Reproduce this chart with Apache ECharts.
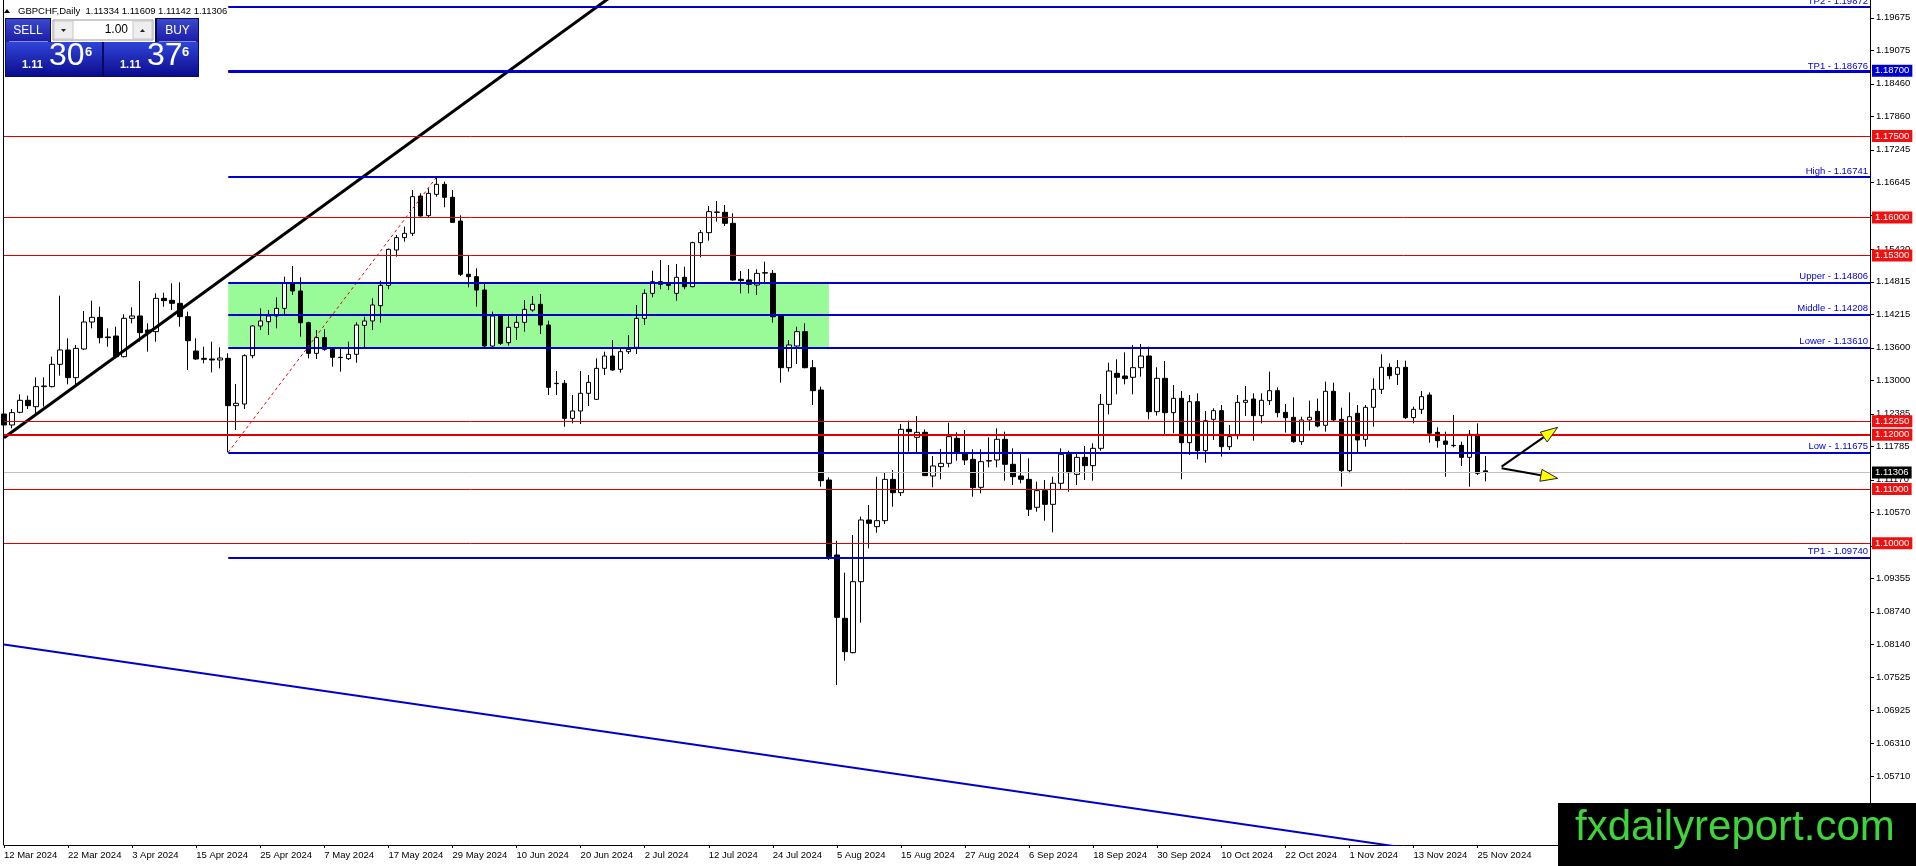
<!DOCTYPE html>
<html>
<head>
<meta charset="utf-8">
<title>GBPCHF Daily</title>
<script src="https://cdn.jsdelivr.net/npm/echarts@6.0.0/dist/echarts.min.js"></script>
<style>
html, body { margin: 0; padding: 0; background: #fff; }
#main { width: 1916px; height: 866px; }
</style>
</head>
<body>
<div id="main"></div>
<script>
/* GBPCHF daily, 12 Mar 2024 - 26 Nov 2024 */
var tickLabels = ['12 Mar 2024', '22 Mar 2024', '3 Apr 2024', '15 Apr 2024', '25 Apr 2024', '7 May 2024',
    '17 May 2024', '29 May 2024', '10 Jun 2024', '20 Jun 2024', '2 Jul 2024', '12 Jul 2024', '24 Jul 2024',
    '5 Aug 2024', '15 Aug 2024', '27 Aug 2024', '6 Sep 2024', '18 Sep 2024', '30 Sep 2024', '10 Oct 2024',
    '22 Oct 2024', '1 Nov 2024', '13 Nov 2024', '25 Nov 2024'];
var priceTicks = [1.19675, 1.19075, 1.18460, 1.17860, 1.17245, 1.16645, 1.16045, 1.15420, 1.14815, 1.14215,
    1.13600, 1.13000, 1.12385, 1.11785, 1.11170, 1.10570, 1.09955, 1.09355, 1.08740, 1.08140, 1.07525,
    1.06925, 1.06310, 1.05710, 1.05095];

var opens = [1.12381, 1.12179, 1.12412, 1.12633, 1.12516, 1.12885, 1.12885, 1.13296, 1.13560, 1.13050,
    1.13578, 1.14075, 1.14161, 1.13800, 1.13817, 1.13437, 1.14143, 1.14186, 1.13928, 1.13897,
    1.14511, 1.14474, 1.14419, 1.14174, 1.13541, 1.13406, 1.13394, 1.13376, 1.13406, 1.12535,
    1.12565, 1.13455, 1.14002, 1.14081, 1.14186, 1.14327, 1.14799, 1.14646, 1.14063, 1.13498,
    1.13787, 1.13572, 1.13425, 1.13400, 1.13480, 1.14014, 1.14094, 1.14376, 1.14750, 1.15401,
    1.15628, 1.15708, 1.16395, 1.16033, 1.16426, 1.16610, 1.16371, 1.15935, 1.14953, 1.14910,
    1.14664, 1.13633, 1.14186, 1.13695, 1.13977, 1.14069, 1.14296, 1.14401, 1.14020, 1.12940,
    1.12946, 1.12301, 1.12437, 1.12762, 1.12651, 1.13222, 1.13449, 1.13204, 1.13529, 1.13609,
    1.14143, 1.14603, 1.14818, 1.14775, 1.14603, 1.14898, 1.14726, 1.15536, 1.15720, 1.16100,
    1.16095, 1.15892, 1.14861, 1.14849, 1.14756, 1.14975, 1.14971, 1.14186, 1.13234, 1.13633,
    1.13897, 1.13234, 1.12823, 1.11166, 1.09785, 1.08619, 1.07987, 1.09294, 1.10430, 1.10307,
    1.10417, 1.11178, 1.10933, 1.12099, 1.11952, 1.12044, 1.11240, 1.11412, 1.11473, 1.11933,
    1.11657, 1.11546, 1.11031, 1.11515, 1.11534, 1.11915, 1.11455, 1.11240, 1.11178, 1.10663,
    1.10970, 1.10718, 1.11105, 1.11639, 1.11270, 1.11583, 1.11430, 1.11749, 1.12559, 1.13130,
    1.13081, 1.13057, 1.13234, 1.13449, 1.12424, 1.13038, 1.12406, 1.12670, 1.11853, 1.12608,
    1.11706, 1.12283, 1.12443, 1.11780, 1.11982, 1.12596, 1.12657, 1.12351, 1.12627, 1.12811,
    1.12412, 1.12320, 1.11872, 1.12271, 1.12430, 1.12173, 1.12799, 1.12283, 1.11338, 1.12394,
    1.11915, 1.12504, 1.12835, 1.13241, 1.13112, 1.13241, 1.12314, 1.12467, 1.12731, 1.12044,
    1.11884, 1.11804, 1.11804, 1.11583, 1.12007, 1.11334];
var closes = [1.12179, 1.12406, 1.12633, 1.12535, 1.12885, 1.12897, 1.13296, 1.13560, 1.13050, 1.13590,
    1.14075, 1.14161, 1.13787, 1.13787, 1.13437, 1.14143, 1.14186, 1.13879, 1.13879, 1.14511,
    1.14468, 1.14419, 1.14174, 1.13731, 1.13394, 1.13388, 1.13376, 1.13412, 1.12535, 1.12578,
    1.13455, 1.14002, 1.14094, 1.14186, 1.14327, 1.14799, 1.14646, 1.14063, 1.13498, 1.13787,
    1.13572, 1.13425, 1.13419, 1.13480, 1.14020, 1.14094, 1.14388, 1.14750, 1.15413, 1.15628,
    1.15708, 1.16383, 1.16027, 1.16444, 1.16610, 1.16371, 1.15910, 1.14953, 1.14910, 1.14664,
    1.13633, 1.14186, 1.13682, 1.13977, 1.14069, 1.14308, 1.14401, 1.14020, 1.12872, 1.12946,
    1.12301, 1.12437, 1.12762, 1.12964, 1.13222, 1.13449, 1.13191, 1.13529, 1.13572, 1.14143,
    1.14603, 1.14818, 1.14769, 1.14750, 1.14898, 1.14726, 1.15536, 1.15720, 1.16107, 1.16095,
    1.15892, 1.14849, 1.14836, 1.14769, 1.14971, 1.14984, 1.14173, 1.13234, 1.13652, 1.13897,
    1.13234, 1.12811, 1.11154, 1.09754, 1.08637, 1.08005, 1.09294, 1.10430, 1.10368, 1.10417,
    1.11178, 1.10933, 1.12099, 1.12056, 1.12044, 1.11246, 1.11424, 1.11473, 1.11964, 1.11657,
    1.11534, 1.11025, 1.11504, 1.11522, 1.11915, 1.11455, 1.11227, 1.11178, 1.10626, 1.10970,
    1.10718, 1.11105, 1.11639, 1.11301, 1.11583, 1.11430, 1.11749, 1.12559, 1.13173, 1.13057,
    1.13032, 1.13234, 1.13449, 1.12424, 1.13038, 1.12406, 1.12670, 1.11853, 1.12608, 1.11706,
    1.12258, 1.12443, 1.11780, 1.11964, 1.12596, 1.12633, 1.12351, 1.12633, 1.12811, 1.12406,
    1.12314, 1.11872, 1.12271, 1.12320, 1.12160, 1.12799, 1.12271, 1.11338, 1.12332, 1.11903,
    1.12504, 1.12835, 1.13241, 1.13087, 1.13234, 1.12314, 1.12467, 1.12700, 1.12026, 1.11890,
    1.11823, 1.11798, 1.11583, 1.12007, 1.11289, 1.11306];
var lows = [1.12150, 1.12117, 1.12394, 1.12473, 1.12394, 1.12516, 1.12872, 1.13087, 1.12928, 1.12915,
    1.13560, 1.13959, 1.13682, 1.13621, 1.13406, 1.13425, 1.14051, 1.13713, 1.13529, 1.13713,
    1.14357, 1.14296, 1.13989, 1.13191, 1.13376, 1.13314, 1.13148, 1.13222, 1.11675, 1.12087,
    1.12473, 1.13406, 1.13928, 1.13836, 1.13959, 1.14204, 1.14572, 1.13805, 1.13406, 1.13394,
    1.13547, 1.13253, 1.13161, 1.13376, 1.13326, 1.13590, 1.13928, 1.14063, 1.14677, 1.15278,
    1.15554, 1.15659, 1.16015, 1.16002, 1.16383, 1.16187, 1.15904, 1.14922, 1.14714, 1.14358,
    1.13590, 1.13590, 1.13652, 1.13639, 1.13744, 1.13897, 1.14266, 1.13854, 1.12731, 1.12731,
    1.12148, 1.12209, 1.12197, 1.12528, 1.12639, 1.13099, 1.13179, 1.13142, 1.13486, 1.13486,
    1.14020, 1.14529, 1.14677, 1.14664, 1.14468, 1.14677, 1.14714, 1.15266, 1.15573, 1.15923,
    1.15843, 1.14836, 1.14603, 1.14603, 1.14572, 1.14799, 1.14063, 1.12958, 1.13161, 1.13302,
    1.13222, 1.12547, 1.11043, 1.09693, 1.07391, 1.07839, 1.07974, 1.08539, 1.09908, 1.10196,
    1.10356, 1.10675, 1.10871, 1.11688, 1.11645, 1.11240, 1.11031, 1.11178, 1.11399, 1.11522,
    1.11442, 1.10859, 1.10920, 1.11399, 1.11399, 1.11154, 1.11074, 1.11105, 1.10503, 1.10583,
    1.10417, 1.10202, 1.10994, 1.10951, 1.11074, 1.11166, 1.11154, 1.11706, 1.12375, 1.12743,
    1.12928, 1.12743, 1.13069, 1.12283, 1.12351, 1.11976, 1.12026, 1.11178, 1.11627, 1.11547,
    1.11485, 1.11903, 1.11596, 1.11718, 1.11915, 1.12344, 1.11890, 1.12209, 1.12547, 1.12320,
    1.12038, 1.11853, 1.11810, 1.12075, 1.12136, 1.12056, 1.12240, 1.11043, 1.11289, 1.11657,
    1.11780, 1.12148, 1.12749, 1.13020, 1.12915, 1.12289, 1.12209, 1.12381, 1.11853, 1.11761,
    1.11227, 1.11768, 1.11424, 1.11043, 1.11258, 1.11142];
var highs = [1.12430, 1.12473, 1.12743, 1.12719, 1.13056, 1.13056, 1.13437, 1.14560, 1.13774, 1.13652,
    1.14278, 1.14468, 1.14357, 1.13959, 1.13989, 1.14216, 1.14345, 1.14830, 1.14051, 1.14603,
    1.14616, 1.14787, 1.14806, 1.14266, 1.13774, 1.13621, 1.13713, 1.13609, 1.13498, 1.12934,
    1.13480, 1.14020, 1.14327, 1.14296, 1.14529, 1.14910, 1.15106, 1.14898, 1.14081, 1.13928,
    1.13940, 1.13590, 1.13590, 1.13713, 1.14069, 1.14173, 1.14511, 1.14836, 1.15426, 1.15677,
    1.15831, 1.16506, 1.16444, 1.16536, 1.16741, 1.16659, 1.16506, 1.16039, 1.15290, 1.15063,
    1.14787, 1.14266, 1.14204, 1.14204, 1.14223, 1.14480, 1.14554, 1.14591, 1.14100, 1.13173,
    1.13007, 1.12731, 1.13173, 1.13099, 1.13406, 1.13529, 1.13744, 1.13609, 1.13836, 1.14388,
    1.14677, 1.15020, 1.15217, 1.15125, 1.15143, 1.15094, 1.15554, 1.15769, 1.16211, 1.16303,
    1.16230, 1.16076, 1.15014, 1.15051, 1.15045, 1.15186, 1.15033, 1.14204, 1.13744, 1.13989,
    1.14051, 1.13376, 1.12885, 1.11215, 1.10049, 1.09460, 1.10153, 1.10491, 1.10706, 1.11227,
    1.11301, 1.11350, 1.12197, 1.12258, 1.12344, 1.12099, 1.11608, 1.11737, 1.12222, 1.12044,
    1.12087, 1.11731, 1.11731, 1.11952, 1.12117, 1.12056, 1.11749, 1.11669, 1.11565, 1.11135,
    1.11166, 1.11227, 1.11749, 1.11706, 1.11669, 1.11792, 1.11841, 1.12750, 1.13326, 1.13388,
    1.13517, 1.13652, 1.13670, 1.13621, 1.13241, 1.13357, 1.12915, 1.12805, 1.12731, 1.12762,
    1.12437, 1.12486, 1.12547, 1.12179, 1.12731, 1.12897, 1.12762, 1.12762, 1.13161, 1.12872,
    1.12565, 1.12688, 1.12332, 1.12627, 1.12664, 1.12977, 1.12958, 1.12498, 1.12780, 1.12547,
    1.12547, 1.13038, 1.13480, 1.13314, 1.13375, 1.13363, 1.12516, 1.12805, 1.12780, 1.12136,
    1.12056, 1.12363, 1.11872, 1.12087, 1.12209, 1.11609];

// chart objects (bar index, price)
var blueLevels = [1.19872, 1.18676, 1.16741, 1.14806, 1.14208, 1.13610, 1.11675, 1.09740];
var blueNames = ['TP2', 'TP1', 'High', 'Upper', 'Middle', 'Lower', 'Low', 'TP1'];
var redLevels = [1.17500, 1.16000, 1.15300, 1.12250, 1.12000, 1.11000, 1.10000];
var boxLevel = 1.18700;
var lastPrice = 1.11306;
var levelStart = 28;
var zoneEnd = 103;
var trendUp = [[0, 1.11943], [80, 1.20516]];
var trendDown = [[0, 1.08135], [180, 1.04287]];
var fiboLine = [[28, 1.11675], [54, 1.16741]];
var arrows = [[187, 1.11411, 194, 1.12136], [187, 1.11381, 194, 1.11197]];
var totalBars = 234;

var FONT = '"Liberation Sans", Arial, sans-serif';
var RED = '#e00000';
var BLUE = '#0000cd';

var cats = [];
for (var i = 0; i < totalBars; i++) cats.push(String(i));

var candles = opens.map(function (o, i) {
    return [o, closes[i], lows[i], highs[i]];
});

function showTick(idx) {
    return idx % 8 === 0 && idx / 8 < tickLabels.length;
}

var lines = [];
redLevels.forEach(function (v) {
    lines.push({
        yAxis: v,
        lineStyle: { color: RED, width: v === 1.12 ? 2 : 1, type: 'solid' },
        label: { show: true, position: 'end', formatter: v.toFixed(5), backgroundColor: '#ee1111', color: '#fff' }
    });
});
lines.push({
    yAxis: lastPrice,
    lineStyle: { color: '#c0c0c0', width: 1, type: 'solid' },
    label: { show: true, position: 'end', formatter: lastPrice.toFixed(5), backgroundColor: '#000', color: '#fff' }
});
lines.push([{
    coord: [levelStart, boxLevel],
    lineStyle: { color: BLUE, width: 2, type: 'solid' },
    label: { show: true, position: 'end', formatter: boxLevel.toFixed(5), backgroundColor: BLUE, color: '#fff' }
}, { coord: [totalBars - 1, boxLevel] }]);
blueLevels.forEach(function (v, k) {
    lines.push([{
        coord: [levelStart, v],
        lineStyle: { color: BLUE, width: 2, type: 'solid' },
        label: {
            show: true, position: 'insideEndTop', distance: [2, 1],
            formatter: blueNames[k] + ' - ' + v.toFixed(5), color: BLUE,
            backgroundColor: 'transparent', padding: 0
        }
    }, { coord: [totalBars - 1, v] }]);
});

var chart = echarts.init(document.getElementById('main'));
var option = {
    animation: false,
    backgroundColor: '#fff',
    textStyle: { fontFamily: FONT },
    grid: { left: 4, right: 46, top: 0, bottom: 21, containLabel: false, outerBoundsMode: 'none' },
    xAxis: {
        type: 'category',
        data: cats,
        boundaryGap: false,
        axisLine: { onZero: false, lineStyle: { color: '#000', width: 1 } },
        axisTick: { show: true, interval: showTick, length: 3, lineStyle: { color: '#000' } },
        axisLabel: {
            interval: showTick,
            formatter: function (v, idx) { return tickLabels[idx / 8] || ''; },
            align: 'left', margin: 5, fontSize: 9.5, color: '#000', fontFamily: FONT
        },
        splitLine: { show: false }
    },
    yAxis: {
        type: 'value',
        position: 'right',
        min: 1.044453,
        max: 1.200041,
        axisLine: { show: true, lineStyle: { color: '#000', width: 1 } },
        axisTick: { show: true, length: 4, customValues: priceTicks, lineStyle: { color: '#000' } },
        axisLabel: {
            customValues: priceTicks,
            formatter: function (v) { return v.toFixed(5); },
            margin: 6, fontSize: 9.5, color: '#000', fontFamily: FONT
        },
        splitLine: { show: false }
    },
    series: [{
        type: 'candlestick',
        data: candles,
        barWidth: 5,
        z: 2,
        silent: true,
        itemStyle: {
            color: '#ffffff', color0: '#000000',
            borderColor: '#000000', borderColor0: '#000000', borderColorDoji: '#000000',
            borderWidth: 1
        },
        markArea: {
            silent: true,
            itemStyle: { color: '#98fb98' },
            data: [[{ coord: [levelStart, blueLevels[3]] }, { coord: [zoneEnd, blueLevels[5]] }]]
        },
        markLine: {
            silent: true,
            symbol: ['none', 'none'],
            precision: 5,
            label: { fontSize: 9.5, fontFamily: FONT, padding: [1, 3, 1, 3], distance: 2 },
            data: lines
        }
    }, {
        type: 'line',
        data: trendUp,
        symbol: 'none',
        z: 4,
        silent: true,
        lineStyle: { color: '#000', width: 3 }
    }, {
        type: 'line',
        data: trendDown,
        symbol: 'none',
        z: 4,
        silent: true,
        lineStyle: { color: BLUE, width: 2 }
    }, {
        type: 'line',
        data: fiboLine,
        symbol: 'none',
        z: 4,
        silent: true,
        lineStyle: { color: RED, width: 1, type: [3, 3] }
    }, {
        type: 'custom',
        data: arrows,
        encode: { x: 0, y: 1 },
        z: 6,
        silent: true,
        renderItem: function (params, api) {
            var a = api.coord([api.value(0), api.value(1)]);
            var b = api.coord([api.value(2), api.value(3)]);
            var dx = b[0] - a[0], dy = b[1] - a[1];
            var len = Math.sqrt(dx * dx + dy * dy);
            var ux = dx / len, uy = dy / len;
            var hl = 17, hw = 6;
            var bx = b[0] - ux * hl, by = b[1] - uy * hl;
            return {
                type: 'group',
                children: [{
                    type: 'line',
                    shape: { x1: a[0], y1: a[1], x2: bx, y2: by },
                    style: { stroke: '#000', lineWidth: 2 }
                }, {
                    type: 'polygon',
                    shape: { points: [[b[0], b[1]], [bx - uy * hw, by + ux * hw], [bx + uy * hw, by - ux * hw]] },
                    style: { fill: '#ffff00', stroke: '#222', lineWidth: 1 }
                }]
            };
        }
    }],
    graphic: [
        // left frame
        { type: 'line', z: 50, shape: { x1: 3.5, y1: 0, x2: 3.5, y2: 845 }, style: { stroke: '#000', lineWidth: 1 } },
        // header
        { type: 'polygon', z: 50, shape: { points: [[4, 13], [10, 13], [7, 9]] }, style: { fill: '#000' } },
        {
            type: 'text', z: 50, x: 18, y: 11,
            style: { text: 'GBPCHF,Daily  1.11334 1.11609 1.11142 1.11306', font: '9.5px ' + FONT, fill: '#000',
                align: 'left', verticalAlign: 'middle', textAlign: 'left', textVerticalAlign: 'middle' }
        },
        // one click trading panel
        { type: 'rect', z: 50, shape: { x: 5, y: 18, width: 194, height: 59 }, style: { fill: '#0a0a5a' } },
        { type: 'rect', z: 51, shape: { x: 51, y: 18, width: 104, height: 24 }, style: { fill: '#fff' } },
        {
            type: 'rect', z: 51, shape: { x: 6, y: 19, width: 44, height: 23 },
            style: { fill: new echarts.graphic.LinearGradient(0, 0, 0, 1, [{ offset: 0, color: '#3a48cc' }, { offset: 1, color: '#1c1ca6' }]) }
        },
        {
            type: 'rect', z: 51, shape: { x: 157, y: 19, width: 41, height: 23 },
            style: { fill: new echarts.graphic.LinearGradient(0, 0, 0, 1, [{ offset: 0, color: '#3a48cc' }, { offset: 1, color: '#1c1ca6' }]) }
        },
        { type: 'rect', z: 52, shape: { x: 53, y: 20, width: 100, height: 20 }, style: { fill: '#fff', stroke: '#9a9a9a', lineWidth: 1 } },
        { type: 'rect', z: 53, shape: { x: 54, y: 21, width: 19, height: 18 }, style: { fill: '#eeeeee', stroke: '#c8c8c8', lineWidth: 1 } },
        { type: 'rect', z: 53, shape: { x: 133, y: 21, width: 19, height: 18 }, style: { fill: '#eeeeee', stroke: '#c8c8c8', lineWidth: 1 } },
        { type: 'polygon', z: 54, shape: { points: [[61, 29], [66, 29], [63.5, 32]] }, style: { fill: '#222' } },
        { type: 'polygon', z: 54, shape: { points: [[140, 32], [145, 32], [142.5, 29]] }, style: { fill: '#222' } },
        {
            type: 'text', z: 54, x: 128, y: 30,
            style: { text: '1.00', font: '12px ' + FONT, fill: '#000', align: 'right', verticalAlign: 'middle', textAlign: 'right', textVerticalAlign: 'middle' }
        },
        {
            type: 'text', z: 54, x: 28, y: 30.5,
            style: { text: 'SELL', font: '12px ' + FONT, fill: '#fff', align: 'center', verticalAlign: 'middle', textAlign: 'center', textVerticalAlign: 'middle' }
        },
        {
            type: 'text', z: 54, x: 177.5, y: 30.5,
            style: { text: 'BUY', font: '12px ' + FONT, fill: '#fff', align: 'center', verticalAlign: 'middle', textAlign: 'center', textVerticalAlign: 'middle' }
        },
        { type: 'line', z: 54, shape: { x1: 9, y1: 41.5, x2: 48, y2: 41.5 }, style: { stroke: '#8a8ae0', lineWidth: 1 } },
        { type: 'line', z: 54, shape: { x1: 159, y1: 41.5, x2: 196, y2: 41.5 }, style: { stroke: '#8a8ae0', lineWidth: 1 } },
        {
            type: 'rect', z: 51, shape: { x: 6, y: 42, width: 96, height: 34 },
            style: { fill: new echarts.graphic.LinearGradient(0, 0, 0, 1, [{ offset: 0, color: '#2f45d8' }, { offset: 1, color: '#0c0c8e' }]) }
        },
        {
            type: 'rect', z: 51, shape: { x: 104, y: 42, width: 94, height: 34 },
            style: { fill: new echarts.graphic.LinearGradient(0, 0, 0, 1, [{ offset: 0, color: '#2f45d8' }, { offset: 1, color: '#0c0c8e' }]) }
        },
        { type: 'text', z: 54, x: 22, y: 64.5, style: { text: '1.11', font: 'bold 11px ' + FONT, fill: '#fff', align: 'left', verticalAlign: 'middle', textAlign: 'left', textVerticalAlign: 'middle' } },
        { type: 'text', z: 54, x: 49, y: 56.5, style: { text: '30', font: '32px ' + FONT, fill: '#fff', align: 'left', verticalAlign: 'middle', textAlign: 'left', textVerticalAlign: 'middle' } },
        { type: 'text', z: 54, x: 85, y: 52.5, style: { text: '6', font: 'bold 13px ' + FONT, fill: '#fff', align: 'left', verticalAlign: 'middle', textAlign: 'left', textVerticalAlign: 'middle' } },
        { type: 'text', z: 54, x: 120, y: 64.5, style: { text: '1.11', font: 'bold 11px ' + FONT, fill: '#fff', align: 'left', verticalAlign: 'middle', textAlign: 'left', textVerticalAlign: 'middle' } },
        { type: 'text', z: 54, x: 147, y: 56.5, style: { text: '37', font: '32px ' + FONT, fill: '#fff', align: 'left', verticalAlign: 'middle', textAlign: 'left', textVerticalAlign: 'middle' } },
        { type: 'text', z: 54, x: 182, y: 52.5, style: { text: '6', font: 'bold 13px ' + FONT, fill: '#fff', align: 'left', verticalAlign: 'middle', textAlign: 'left', textVerticalAlign: 'middle' } },
        // watermark
        { type: 'rect', z: 60, shape: { x: 1558, y: 803, width: 358, height: 63 }, style: { fill: '#000' } },
        {
            type: 'text', z: 61, x: 1575, y: 828,
            style: { text: 'fxdailyreport.com', font: '42px ' + FONT, fill: '#3fd43a', align: 'left', verticalAlign: 'middle', textAlign: 'left', textVerticalAlign: 'middle' }
        }
    ]
};
chart.setOption(option);
</script>
</body>
</html>
